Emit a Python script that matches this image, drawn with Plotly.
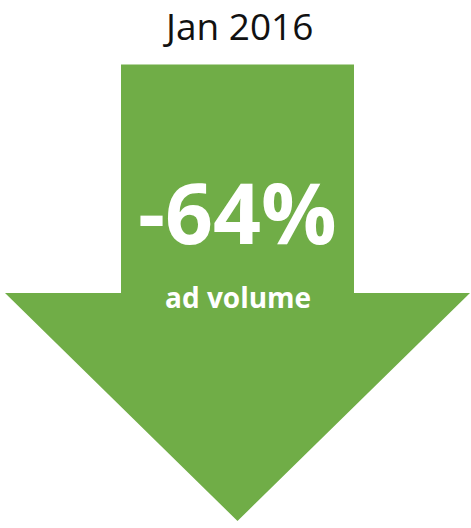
import plotly.graph_objects as go

# ---- data ----
period_label = ["Jan 2016"]
change_pct = [-64]
metric_label = ["ad volume"]

# ---- arrow geometry (canvas units = pixels) ----
W, H = 471, 528
cx = 237.5
shaft_half = 116.5
shaft_top = 64.5
head_top = 293
head_half = 232.5
apex_y = 521

arrow_x = [cx - shaft_half, cx + shaft_half, cx + shaft_half, cx + head_half,
           cx, cx - head_half, cx - shaft_half, cx - shaft_half]
arrow_y = [shaft_top, shaft_top, head_top, head_top, apex_y, head_top, head_top, shaft_top]

green = "#70AD47"

fig = go.Figure()
fig.add_trace(go.Scatter(x=arrow_x, y=arrow_y, mode="lines", fill="toself",
                         fillcolor=green, line=dict(color=green, width=0),
                         hoverinfo="skip", showlegend=False))

fig.add_annotation(x=cx, y=25, text=period_label[0], showarrow=False,
                   xanchor="center", yanchor="middle",
                   font=dict(family="Open Sans", size=37, color="#111111"))
fig.add_annotation(x=cx, y=211, text=f"{change_pct[0]}%", showarrow=False,
                   xanchor="center", yanchor="middle",
                   font=dict(family="Open Sans", size=84, color="white", weight="bold"))
fig.add_annotation(x=cx, y=297, text=metric_label[0], showarrow=False,
                   xanchor="center", yanchor="middle",
                   font=dict(family="Open Sans", size=28, color="white", weight="bold"))

fig.update_layout(width=W, height=H, margin=dict(l=0, r=0, t=0, b=0),
                  paper_bgcolor="white", plot_bgcolor="white",
                  xaxis=dict(range=[0, W], visible=False, fixedrange=True),
                  yaxis=dict(range=[H, 0], visible=False, fixedrange=True))

fig.write_html("out.html", config={"displayModeBar": False},
               post_script="document.body.style.margin='0';document.body.style.overflow='hidden';")
